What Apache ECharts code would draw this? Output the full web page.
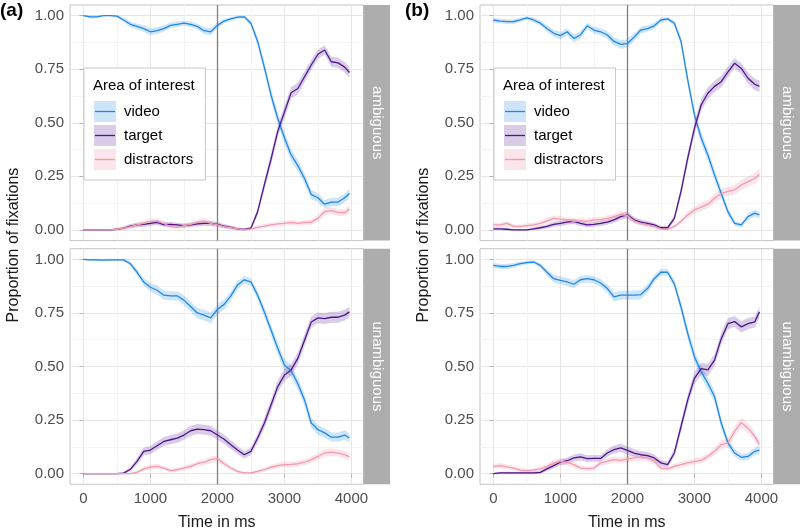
<!DOCTYPE html>
<html><head><meta charset="utf-8">
<script src="https://cdn.jsdelivr.net/npm/echarts@6/dist/echarts.min.js"></script>
<style>html,body{margin:0;padding:0;background:#fff}#c{width:800px;height:531px}</style>
</head><body><div id="c"></div><script>
// ---- data ----
const TIMES = [0,100,200,300,400,500,600,700,800,900,1000,1100,1200,1300,1400,1500,1600,1700,1800,1900,2000,2100,2200,2300,2400,2500,2600,2700,2800,2900,3000,3100,3200,3300,3400,3500,3600,3700,3800,3900,3970];

const aAmbVideo = [1.0,0.995,0.995,1.0,1.0,0.998,0.98,0.96,0.95,0.94, 0.925,0.93,0.94,0.955,0.96,0.965,0.96,0.95,0.93,0.925, 0.955,0.975,0.985,0.993,0.995,0.965,0.88,0.76,0.63,0.52, 0.43,0.35,0.3,0.24,0.165,0.15,0.12,0.13,0.13,0.15, 0.17];
const aAmbTarget = [0,0,0,0,0,0.003,0.008,0.018,0.023,0.026, 0.03,0.035,0.025,0.026,0.023,0.02,0.023,0.028,0.03,0.03, 0.026,0.018,0.012,0.005,0.002,0.008,0.085,0.21,0.33,0.46, 0.55,0.64,0.66,0.715,0.77,0.82,0.84,0.785,0.78,0.76, 0.735];
const aAmbDistr = [0,0,0,0,0,0.003,0.008,0.015,0.023,0.03, 0.04,0.04,0.03,0.015,0.012,0.02,0.026,0.035,0.042,0.03, 0.023,0.015,0.01,0.005,0.0,0.005,0.012,0.018,0.023,0.028, 0.03,0.035,0.03,0.035,0.035,0.055,0.085,0.09,0.082,0.08, 0.098];

const aUnVideo = [1.0,0.998,0.998,0.997,0.998,0.998,0.998,0.98,0.94,0.895, 0.87,0.856,0.833,0.83,0.83,0.81,0.78,0.75,0.74,0.727, 0.766,0.79,0.83,0.88,0.905,0.895,0.833,0.755,0.67,0.585, 0.507,0.48,0.42,0.344,0.236,0.205,0.19,0.17,0.17,0.18, 0.166];
const aUnTarget = [0,0,0,0,0,0,0.002,0.02,0.057,0.104, 0.11,0.13,0.15,0.158,0.166,0.18,0.2,0.208,0.205,0.2, 0.18,0.16,0.135,0.11,0.088,0.104,0.166,0.235,0.32,0.406, 0.46,0.484,0.538,0.623,0.708,0.727,0.724,0.73,0.73,0.74, 0.755];
const aUnDistr = [0,0,0,0,0,0,0,0,0.006,0.022, 0.03,0.034,0.026,0.014,0.018,0.026,0.034,0.046,0.053,0.065, 0.07,0.046,0.026,0.01,0.003,0.003,0.01,0.018,0.03,0.037, 0.042,0.043,0.046,0.053,0.065,0.08,0.096,0.1,0.096,0.088, 0.078];

const bAmbVideo = [0.98,0.975,0.972,0.972,0.98,0.99,0.98,0.965,0.94,0.918, 0.907,0.925,0.894,0.91,0.953,0.933,0.925,0.91,0.88,0.866, 0.87,0.9,0.933,0.94,0.953,0.98,0.985,0.965,0.88,0.7, 0.537,0.43,0.35,0.257,0.17,0.085,0.03,0.023,0.062,0.078, 0.07];
const bAmbTarget = [0.005,0.005,0.003,0,0,0,0.005,0.01,0.016,0.026, 0.03,0.036,0.04,0.03,0.023,0.026,0.03,0.036,0.047,0.062, 0.07,0.047,0.036,0.03,0.023,0.01,0.01,0.054,0.18,0.335, 0.474,0.583,0.638,0.67,0.692,0.738,0.778,0.754,0.708,0.68, 0.67];
const bAmbDistr = [0.023,0.023,0.03,0.016,0.016,0.02,0.023,0.03,0.042,0.054, 0.05,0.047,0.04,0.042,0.04,0.047,0.047,0.054,0.062,0.073, 0.067,0.042,0.03,0.023,0.016,0.005,0.003,0.016,0.04,0.07, 0.093,0.106,0.12,0.148,0.17,0.18,0.187,0.21,0.225,0.24, 0.26];

const bUnVideo = [0.972,0.967,0.967,0.972,0.98,0.985,0.988,0.972,0.94,0.91, 0.902,0.895,0.884,0.905,0.91,0.905,0.89,0.864,0.825,0.833, 0.833,0.833,0.836,0.864,0.91,0.94,0.94,0.886,0.778,0.654, 0.546,0.476,0.422,0.36,0.236,0.143,0.096,0.076,0.08,0.104, 0.11];
const bUnTarget = [0,0.003,0.003,0.003,0.003,0.003,0.003,0.006,0.022,0.037, 0.053,0.06,0.073,0.078,0.07,0.071,0.071,0.096,0.112,0.12, 0.108,0.096,0.088,0.084,0.073,0.05,0.042,0.096,0.22,0.344, 0.445,0.49,0.484,0.53,0.63,0.7,0.71,0.685,0.7,0.708, 0.755];
const bUnDistr = [0.034,0.037,0.031,0.026,0.016,0.014,0.016,0.022,0.034,0.05, 0.057,0.053,0.042,0.026,0.023,0.026,0.05,0.057,0.065,0.062, 0.068,0.073,0.078,0.073,0.057,0.026,0.022,0.034,0.042,0.05, 0.057,0.062,0.08,0.104,0.135,0.143,0.197,0.239,0.212,0.174, 0.135];

const SERIES_NAMES = ['video','target','distractors'];
const FACET_NAMES = ['ambiguous','unambiguous'];
const PANEL_LABELS = ['(a)','(b)'];
const X_TICKS = [0,1000,2000,3000,4000];
const X_MINOR = [500,1500,2500,3500];
const Y_TICKS = [0,0.25,0.5,0.75,1];
const Y_MINOR = [0.125,0.375,0.625,0.875];
const ONSET_MS = 2000;
const BAND_K = 0.05, BAND_MIN = 0.003; // confidence band half-width scale

// facet order: A-amb, A-unamb, B-amb, B-unamb
const FACETS = [
  [aAmbVideo, aAmbTarget, aAmbDistr],
  [aUnVideo, aUnTarget, aUnDistr],
  [bAmbVideo, bAmbTarget, bAmbDistr],
  [bUnVideo, bUnTarget, bUnDistr]
];

// ---- style ----
const FONT = 'Liberation Sans, Arial, sans-serif';
const LINE_COLORS = ['#1E88E5', '#4E168C', '#F29AAE'];
const BAND_COLORS = ['rgba(30,136,229,0.22)', 'rgba(78,22,140,0.22)', 'rgba(240,150,175,0.25)'];
const PANEL_LEFT = [70, 480];
const PANEL_TOP = [5, 248.7];
const PANEL_W = 293.5, PANEL_H = 235.6, STRIP_W = 26.5;

const grids = [], xAxes = [], yAxes = [], series = [];
const xMinorAxes = [], yMinorAxes = [];
for (let p = 0; p < 2; p++) {
  for (let f = 0; f < 2; f++) {
    const gi = p * 2 + f;
    const bottom = f === 1;
    grids.push({left: PANEL_LEFT[p], top: PANEL_TOP[f], width: PANEL_W, height: PANEL_H,
      show: true, backgroundColor: '#fff', borderColor: '#C4C4C4', borderWidth: 1, containLabel: false});
    xAxes.push({type: 'value', gridIndex: gi, min: -200, max: 4180, position: 'bottom',
      axisLine: {show: false},
      axisTick: {show: bottom, customValues: X_TICKS, length: 4, lineStyle: {color: '#B3B3B3'}},
      axisLabel: {show: bottom, customValues: X_TICKS, fontSize: 15, color: '#4D4D4D', margin: 7, fontFamily: FONT,
        formatter: v => String(v)},
      splitLine: {show: true, lineStyle: {color: '#E6E6E6', width: 1}}});
    xMinorAxes.push({type: 'value', gridIndex: gi, min: -200, max: 4180, position: 'bottom',
      axisLine: {show: false}, axisTick: {show: false, customValues: X_MINOR}, axisLabel: {show: false, customValues: X_MINOR},
      splitLine: {show: true, lineStyle: {color: '#F3F3F3', width: 1}}});
    yAxes.push({type: 'value', gridIndex: gi, min: -0.05, max: 1.05, position: 'left',
      axisLine: {show: false},
      axisTick: {show: true, customValues: Y_TICKS, length: 4, lineStyle: {color: '#B3B3B3'}},
      axisLabel: {show: true, customValues: Y_TICKS, fontSize: 15, color: '#4D4D4D', margin: 6, fontFamily: FONT,
        formatter: v => Number(v).toFixed(2)},
      splitLine: {show: true, lineStyle: {color: '#E6E6E6', width: 1}}});
    yMinorAxes.push({type: 'value', gridIndex: gi, min: -0.05, max: 1.05, position: 'left',
      axisLine: {show: false}, axisTick: {show: false, customValues: Y_MINOR}, axisLabel: {show: false, customValues: Y_MINOR},
      splitLine: {show: true, lineStyle: {color: '#F3F3F3', width: 1}}});
  }
}
const allX = xAxes.concat(xMinorAxes);
const allY = yAxes.concat(yMinorAxes);

FACETS.forEach((facet, gi) => {
  facet.forEach((vals, s) => {
    const half = vals.map(v => BAND_K * Math.sqrt(Math.max(0, v * (1 - v))) + BAND_MIN);
    const upper = vals.map((v, i) => v + half[i]);
    const lower = vals.map((v, i) => v - half[i]);
    series.push({type: 'custom', xAxisIndex: gi, yAxisIndex: gi, silent: true, z: 2, clip: true,
      data: [[TIMES[0], vals[0]]], encode: {x: 0, y: 1},
      renderItem: (params, api) => {
        const pts = [];
        for (let i = 0; i < TIMES.length; i++) pts.push(api.coord([TIMES[i], upper[i]]));
        for (let i = TIMES.length - 1; i >= 0; i--) pts.push(api.coord([TIMES[i], lower[i]]));
        return {type: 'polygon', shape: {points: pts}, style: {fill: BAND_COLORS[s]}};
      }});
  });
  facet.forEach((vals, s) => {
    const ser = {type: 'line', name: SERIES_NAMES[s], xAxisIndex: gi, yAxisIndex: gi,
      data: vals.map((v, i) => [TIMES[i], v]), symbol: 'none', silent: true,
      lineStyle: {color: LINE_COLORS[s], width: 1.3}, z: 4};
    if (s === 0) {
      ser.markLine = {silent: true, symbol: 'none', label: {show: false},
        lineStyle: {color: '#7F7F7F', width: 1.3, type: 'solid'}, data: [{xAxis: ONSET_MS}], z: 3, animation: false};
    }
    series.push(ser);
  });
});

// ---- graphic (strips, titles, legend) ----
const graphic = [];
for (let p = 0; p < 2; p++) {
  const L = PANEL_LEFT[p];
  graphic.push({type: 'text', left: p === 0 ? 0 : 405, top: 1,
    style: {text: PANEL_LABELS[p], font: 'bold 19px ' + FONT, fill: '#000'}});
  graphic.push({type: 'text', x: L - 56.5, y: 245, rotation: Math.PI / 2,
    style: {text: 'Proportion of fixations', font: '16px ' + FONT, fill: '#1A1A1A', align: 'center', verticalAlign: 'middle'}});
  graphic.push({type: 'text', x: L + PANEL_W / 2, y: 523,
    style: {text: 'Time in ms', font: '16px ' + FONT, fill: '#1A1A1A', align: 'center', verticalAlign: 'middle'}});
  for (let f = 0; f < 2; f++) {
    const sx = L + PANEL_W;
    graphic.push({type: 'rect', shape: {x: sx, y: PANEL_TOP[f], width: STRIP_W, height: PANEL_H},
      style: {fill: '#ADADAD'}, z: 10});
    graphic.push({type: 'text', x: sx + STRIP_W / 2, y: PANEL_TOP[f] + PANEL_H / 2, rotation: -Math.PI / 2, z: 11,
      style: {text: FACET_NAMES[f], font: '15px ' + FONT, fill: '#fff', align: 'center', verticalAlign: 'middle'}});
  }
  // legend
  const bx = L + 14, by = 68;
  graphic.push({type: 'rect', shape: {x: bx, y: by, width: 121.5, height: 112}, z: 20,
    style: {fill: '#fff', stroke: '#C8C8C8', lineWidth: 1}});
  graphic.push({type: 'text', x: bx + 9, y: 86, z: 21,
    style: {text: 'Area of interest', font: '15px ' + FONT, fill: '#000', verticalAlign: 'middle'}});
  SERIES_NAMES.forEach((nm, s) => {
    const ky = 101 + s * 24;
    graphic.push({type: 'rect', shape: {x: bx + 10, y: ky, width: 22, height: 21}, z: 21, style: {fill: BAND_COLORS[s]}});
    graphic.push({type: 'line', shape: {x1: bx + 11, y1: ky + 10.5, x2: bx + 31, y2: ky + 10.5}, z: 22,
      style: {stroke: LINE_COLORS[s], lineWidth: 1.3}});
    graphic.push({type: 'text', x: bx + 40, y: ky + 11, z: 22,
      style: {text: nm, font: '15px ' + FONT, fill: '#000', verticalAlign: 'middle'}});
  });
}

const chart = echarts.init(document.getElementById('c'), null, {renderer: 'canvas'});
chart.setOption({animation: false, grid: grids, xAxis: allX, yAxis: allY, series: series, graphic: graphic});
</script></body></html>
